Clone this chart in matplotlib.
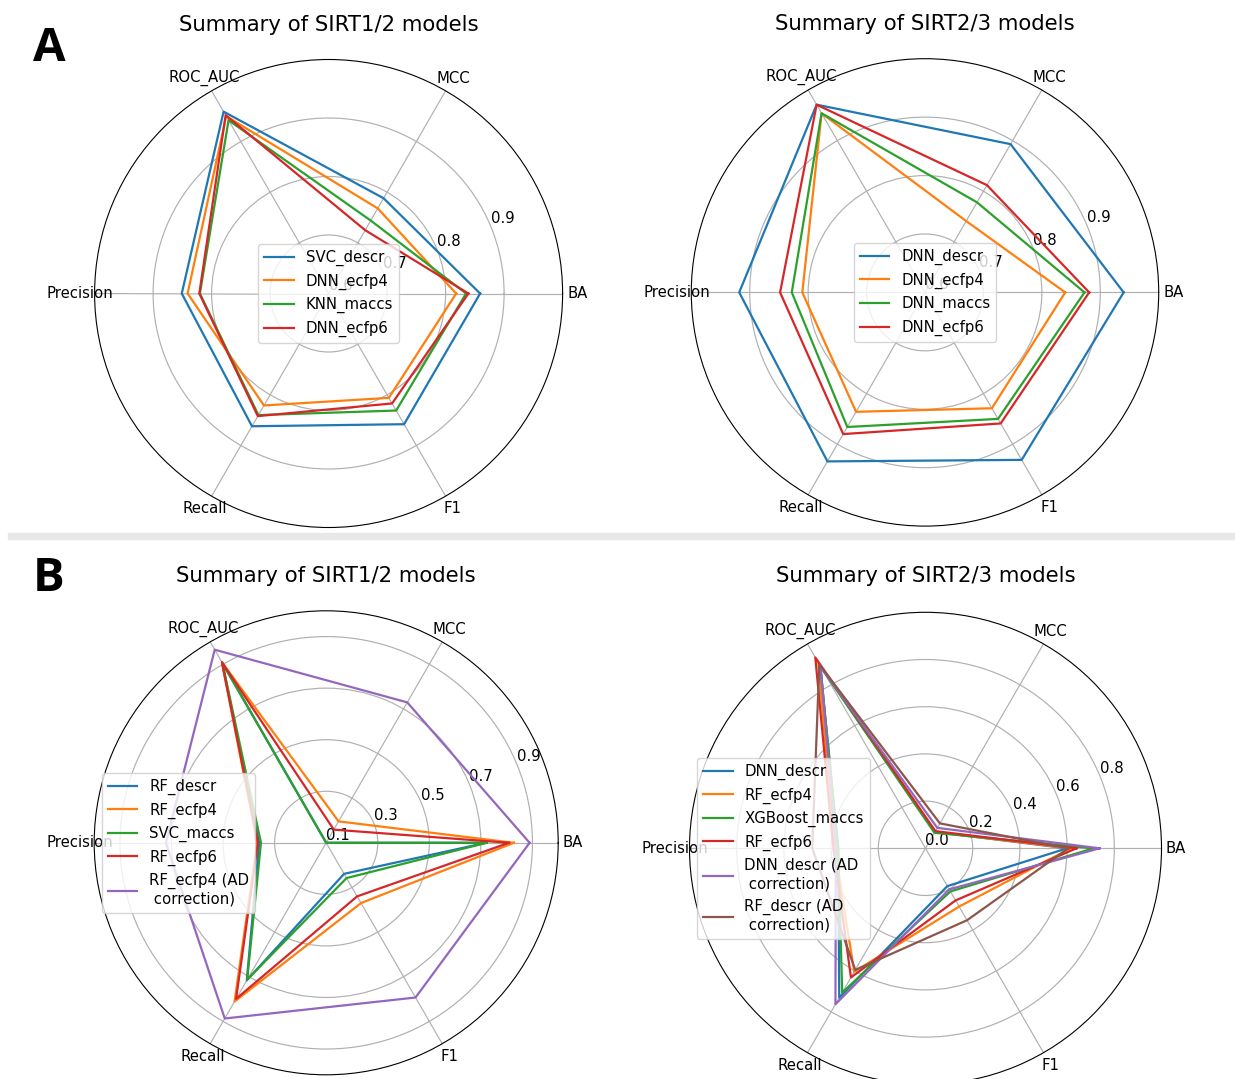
import numpy as np
import matplotlib.pyplot as plt
from matplotlib.patches import Rectangle

# axes of every radar plot (counter-clockwise from the right)
metrics = ['BA', 'MCC', 'ROC_AUC', 'Precision', 'Recall', 'F1']
angles_deg = [0, 60, 120, 180, 240, 300]

# panel A, SIRT1/2
a12_names = ['SVC_descr', 'DNN_ecfp4', 'KNN_maccs', 'DNN_ecfp6']
a12_svc_descr = [0.859, 0.788, 0.959, 0.851, 0.862, 0.858]
a12_dnn_ecfp4 = [0.818, 0.768, 0.950, 0.841, 0.821, 0.806]
a12_knn_maccs = [0.835, 0.744, 0.942, 0.820, 0.840, 0.831]
a12_dnn_ecfp6 = [0.839, 0.725, 0.952, 0.821, 0.842, 0.817]

# panel A, SIRT2/3
a23_names = ['DNN_descr', 'DNN_ecfp4', 'DNN_maccs', 'DNN_ecfp6']
a23_dnn_descr = [0.940, 0.893, 0.971, 0.918, 0.934, 0.931]
a23_dnn_ecfp4 = [0.840, 0.741, 0.954, 0.810, 0.836, 0.829]
a23_dnn_maccs = [0.873, 0.778, 0.954, 0.828, 0.866, 0.850]
a23_dnn_ecfp6 = [0.881, 0.812, 0.971, 0.848, 0.880, 0.859]

# panel B, SIRT1/2
b12_names = ['RF_descr', 'RF_ecfp4', 'SVC_maccs', 'RF_ecfp6',
             'RF_ecfp4 (AD\n correction)']
b12_rf_descr = [0.720, 0.100, 0.907, 0.360, 0.716, 0.239]
b12_rf_ecfp4 = [0.828, 0.196, 0.909, 0.368, 0.811, 0.370]
b12_svc_maccs = [0.722, 0.100, 0.905, 0.353, 0.713, 0.258]
b12_rf_ecfp6 = [0.809, 0.159, 0.909, 0.365, 0.799, 0.340]
b12_rf_ecfp4_ad = [0.889, 0.729, 0.965, 0.722, 0.887, 0.793]

# panel B, SIRT2/3
b23_names = ['DNN_descr', 'RF_ecfp4', 'XGBoost_maccs', 'RF_ecfp6',
             'DNN_descr (AD\n correction)', 'RF_descr (AD\n correction)']
b23_dnn_descr = [0.600, 0.080, 0.892, 0.370, 0.731, 0.185]
b23_rf_ecfp4 = [0.615, 0.080, 0.909, 0.385, 0.604, 0.285]
b23_xgb_maccs = [0.712, 0.076, 0.892, 0.370, 0.706, 0.211]
b23_rf_ecfp6 = [0.640, 0.084, 0.934, 0.390, 0.632, 0.255]
b23_dnn_descr_ad = [0.738, 0.100, 0.888, 0.380, 0.763, 0.201]
b23_rf_descr_ad = [0.605, 0.122, 0.900, 0.480, 0.595, 0.352]

W, H = 1235, 1079
fs = 10.7


def radar(cx, cy, rad, names, series, rlim, rticks, loc, title, ty):
    # place a square polar axes from pixel centre / radius
    ax = fig.add_axes([(cx - rad) / W, 1 - (cy + rad) / H, 2 * rad / W, 2 * rad / H],
                      projection='polar')
    theta = np.deg2rad(angles_deg)
    theta = np.append(theta, theta[0])
    for name, vals in zip(names, series):
        ax.plot(theta, np.append(vals, vals[0]), lw=1.6, label=name)
    ax.set_thetagrids(angles_deg, metrics, fontsize=fs)
    ax.tick_params(axis='x', pad=0)
    ax.set_ylim(*rlim)
    ax.set_yticks(rticks)
    ax.set_yticklabels(['%.1f' % t for t in rticks], fontsize=fs)
    ax.grid(True, color='#b0b0b0', lw=0.85)
    ax.legend(loc=loc, fontsize=fs)
    fig.text(cx / W, 1 - ty / H, title, fontsize=15.3, ha='center', va='baseline')
    return ax


fig = plt.figure(figsize=(W / 100, H / 100), dpi=100)

radar(328.6, 293.5, 234, a12_names,
      [a12_svc_descr, a12_dnn_ecfp4, a12_knn_maccs, a12_dnn_ecfp6],
      (0.6, 1.0), [0.6, 0.7, 0.8, 0.9], 'center', 'Summary of SIRT1/2 models', 31)
radar(925, 292.4, 233.7, a23_names,
      [a23_dnn_descr, a23_dnn_ecfp4, a23_dnn_maccs, a23_dnn_ecfp6],
      (0.6, 1.0), [0.6, 0.7, 0.8, 0.9], 'center', 'Summary of SIRT2/3 models', 29.5)
radar(326.2, 842.8, 232, b12_names,
      [b12_rf_descr, b12_rf_ecfp4, b12_svc_maccs, b12_rf_ecfp6, b12_rf_ecfp4_ad],
      (0.1, 1.0), [0.1, 0.3, 0.5, 0.7, 0.9], 'center left', 'Summary of SIRT1/2 models', 582)
radar(925.5, 848.3, 236, b23_names,
      [b23_dnn_descr, b23_rf_ecfp4, b23_xgb_maccs, b23_rf_ecfp6, b23_dnn_descr_ad, b23_rf_descr_ad],
      (0.0, 1.0), [0.0, 0.2, 0.4, 0.6, 0.8], 'center left', 'Summary of SIRT2/3 models', 582)

# panel letters and grey divider
fig.text(49 / W, 1 - 61 / H, 'A', fontsize=34, family='Open Sans', weight='bold',
         ha='center', va='baseline')
fig.text(49 / W, 1 - 591 / H, 'B', fontsize=34, family='Open Sans', weight='bold',
         ha='center', va='baseline')
fig.patches.append(Rectangle((8 / W, 1 - 539 / H), (W - 8) / W, 6 / H,
                             transform=fig.transFigure, color='#e8e8e8', zorder=0))

fig.savefig('out.png', dpi=100)
